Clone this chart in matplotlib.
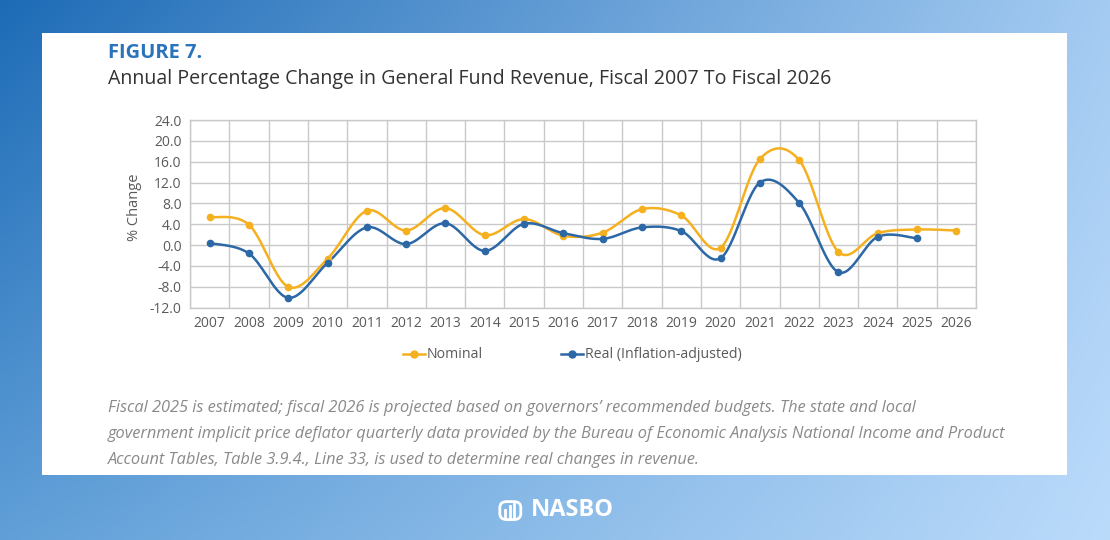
import numpy as np
import matplotlib
matplotlib.use("Agg")
import matplotlib.pyplot as plt
from matplotlib.patches import Rectangle, FancyBboxPatch
from matplotlib.lines import Line2D

years = ["2007", "2008", "2009", "2010", "2011", "2012", "2013", "2014", "2015", "2016",
         "2017", "2018", "2019", "2020", "2021", "2022", "2023", "2024", "2025", "2026"]
nominal = [5.4, 3.9, -8.0, -2.6, 6.6, 2.8, 7.1, 1.9, 5.0, 1.8,
           2.4, 6.9, 5.7, -0.5, 16.5, 16.3, -1.3, 2.3, 3.0, 2.8]
real = [0.4, -1.6, -10.1, -3.4, 3.4, 0.2, 4.2, -1.1, 4.1, 2.3,
        1.2, 3.4, 2.7, -2.5, 12.0, 8.1, -5.2, 1.6, 1.3]
yticks = [-12, -8, -4, 0, 4, 8, 12, 16, 20, 24]

NOM_C = "#f5b020"
REAL_C = "#2c67a6"
W, H = 1110, 540

def smooth(xs, ys, n=30):
    """Excel-like smoothing: cubic Bezier with Catmull-Rom control points."""
    xs = np.asarray(xs, float); ys = np.asarray(ys, float)
    P = np.column_stack([xs, ys])
    out = []
    for i in range(len(P) - 1):
        p0 = P[i - 1] if i > 0 else P[i]
        p1 = P[i]; p2 = P[i + 1]
        p3 = P[i + 2] if i + 2 < len(P) else P[i + 1]
        c1 = p1 + (p2 - p0) / 6.0
        c2 = p2 - (p3 - p1) / 6.0
        t = np.linspace(0, 1, n)[:, None]
        seg = ((1 - t) ** 3) * p1 + 3 * ((1 - t) ** 2) * t * c1 + 3 * (1 - t) * t ** 2 * c2 + t ** 3 * p2
        out.append(seg if i == 0 else seg[1:])
    s = np.vstack(out)
    return s[:, 0], s[:, 1]

fig = plt.figure(figsize=(W / 100, H / 100), dpi=100)

# background gradient
bg = fig.add_axes([0, 0, 1, 1], zorder=-10)
bg.set_axis_off()
tl = np.array([0x1d, 0x6b, 0xb6]) / 255
tr = np.array([0xa4, 0xcb, 0xf2]) / 255
bl = np.array([0x60, 0x9f, 0xd8]) / 255
br = np.array([0xbb, 0xdb, 0xfb]) / 255
u = np.linspace(0, 1, 300)[None, :, None]
v = np.linspace(0, 1, 150)[:, None, None]
img = (1 - v) * ((1 - u) * tl + u * tr) + v * ((1 - u) * bl + u * br)
bg.imshow(img, aspect="auto", extent=[0, 1, 0, 1], interpolation="bilinear")
bg.set_xlim(0, 1); bg.set_ylim(0, 1)

# white card
fig.patches.append(Rectangle((42 / W, 1 - 475 / H), (1067 - 42) / W, (475 - 33) / H,
                             transform=fig.transFigure, facecolor="white",
                             edgecolor="none", zorder=-5))

# titles
fig.text(108 / W, 1 - 53 / H, "FIGURE 7.", fontsize=14.5, fontweight="bold",
         color="#2a74bb", family="Open Sans", va="center", ha="left")
fig.text(108 / W, 1 - 79 / H,
         "Annual Percentage Change in General Fund Revenue, Fiscal 2007 To Fiscal 2026",
         fontsize=14.1, color="#333333", family="Open Sans", va="center", ha="left")

# chart
ax = fig.add_axes([190 / W, 1 - 307.7 / H, (976 - 190) / W, (307.7 - 120) / H])
x = np.arange(len(years))
ax.set_xlim(-0.5, len(years) - 0.5)
ax.set_ylim(-12, 24)
ax.set_yticks(yticks)
ax.set_yticklabels([f"{t:.1f}" for t in yticks])
ax.set_xticks(x)
ax.set_xticklabels(years)
ax.grid(False)
for yv in yticks:
    ax.axhline(yv, color="#c9c9c9", lw=1.0, zorder=0)
for xv in np.arange(-0.5, len(years), 1):
    ax.axvline(xv, color="#c9c9c9", lw=1.0, zorder=0)
for s in ax.spines.values():
    s.set_color("#c9c9c9"); s.set_linewidth(1.0)
ax.tick_params(axis="both", which="both", length=0, labelsize=10, colors="#5a5a5a", pad=6)
for lab in ax.get_xticklabels() + ax.get_yticklabels():
    lab.set_family("Open Sans")
ax.set_ylabel("% Change", fontsize=10.5, color="#5a5a5a", family="Open Sans", labelpad=6)
ax.yaxis.set_label_coords(-0.061, 0.536)

sx, sy = smooth(x, nominal)
ax.plot(sx, sy, color=NOM_C, lw=1.8, zorder=3, solid_capstyle="round")
ax.plot(x, nominal, "o", color=NOM_C, ms=4.5, zorder=4)
rx, ry = smooth(x[:len(real)], real)
ax.plot(rx, ry, color=REAL_C, lw=1.8, zorder=3, solid_capstyle="round")
ax.plot(x[:len(real)], real, "o", color=REAL_C, ms=4.5, zorder=4)

# legend
handles = [Line2D([0], [0], color=NOM_C, lw=1.8, marker="o", ms=5),
           Line2D([0], [0], color=REAL_C, lw=1.8, marker="o", ms=5)]
leg = fig.legend(handles, ["Nominal", "Real (Inflation-adjusted)"],
                 loc="center", bbox_to_anchor=(572 / W, 1 - 355 / H), ncol=2,
                 frameon=False, handlelength=1.6, handletextpad=0.1,
                 columnspacing=5.5, prop={"family": "Open Sans", "size": 10.2})
for t in leg.get_texts():
    t.set_color("#5a5a5a")

# footnote
notes = ["Fiscal 2025 is estimated; fiscal 2026 is projected based on governors\u2019 recommended budgets. The state and local",
         "government implicit price deflator quarterly data provided by the Bureau of Economic Analysis National Income and Product",
         "Account Tables, Table 3.9.4., Line 33, is used to determine real changes in revenue."]
for i, line in enumerate(notes):
    fig.text(108 / W, 1 - (408 + 26 * i) / H, line, fontsize=11.8, style="italic",
             color="#8a8a8a", family="Open Sans", va="center", ha="left")

# logo
fig.text(531 / W, 1 - 510 / H, "NASBO", fontsize=17, fontweight="bold",
         color="white", family="Open Sans", va="center", ha="left")
lax = fig.add_axes([497 / W, 1 - 522 / H, 28 / W, 24 / H])
lax.set_axis_off(); lax.set_xlim(0, 1); lax.set_ylim(0, 1)
lax.add_patch(FancyBboxPatch((0.1, 0.1), 0.75, 0.75, boxstyle="round,pad=0,rounding_size=0.25",
                             fill=False, edgecolor="white", lw=2))
for bx, bh in [(0.3, 0.35), (0.45, 0.5), (0.6, 0.65)]:
    lax.plot([bx, bx], [0.15, 0.15 + bh], color="white", lw=2)

fig.savefig("out.png", dpi=100)
